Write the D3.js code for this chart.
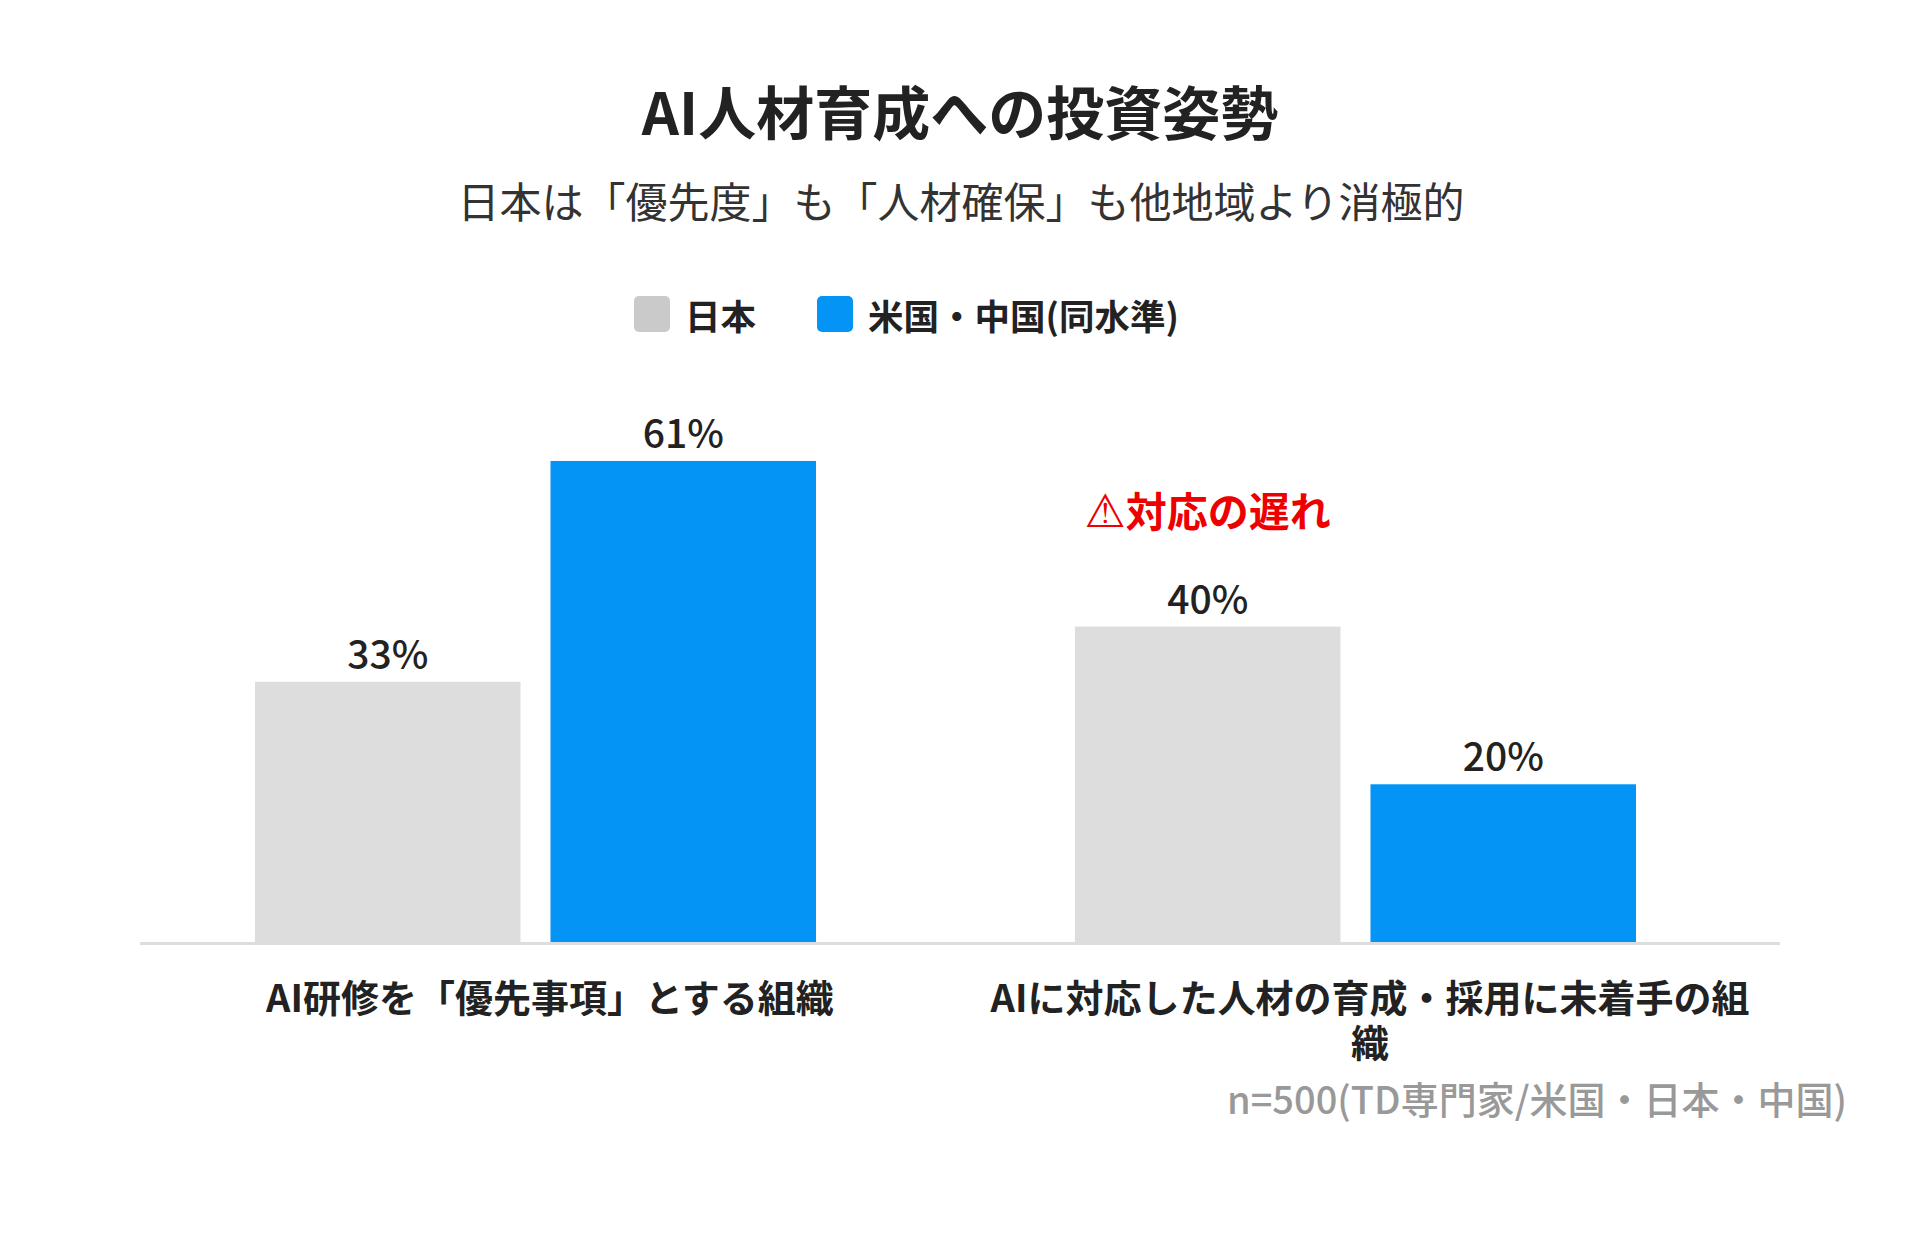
<!DOCTYPE html>
<html lang="ja">
<head>
<meta charset="utf-8">
<script src="https://cdn.jsdelivr.net/npm/d3@7/dist/d3.min.js"></script>
<style>
  html, body { margin: 0; padding: 0; background: #ffffff; }
  svg { display: block; }
  text { font-family: "Noto Sans CJK JP", "Noto Sans", sans-serif; }
</style>
</head>
<body>
<svg id="chart" width="1920" height="1236"></svg>
<script>
// ---- data ----
const categories = ["AI研修を「優先事項」とする組織", "AIに対応した人材の育成・採用に未着手の組織"];
const seriesNames = ["日本", "米国・中国(同水準)"];
const japanValues = [33, 40];
const usChinaValues = [61, 20];
const seriesColors = ["#dddddd", "#0494f5"];
const legendColors = ["#cacaca", "#0494f5"];
const titleText = "AI人材育成への投資姿勢";
const subtitleText = "日本は「優先度」も「人材確保」も他地域より消極的";
const annotationIcon = "⚠";
const annotationText = "対応の遅れ";
const footnoteText = "n=500(TD専門家/米国・日本・中国)";

const seriesValues = [japanValues, usChinaValues];
const rows = categories.map((c, i) => ({
  category: c,
  values: seriesNames.map((s, j) => ({ series: s, value: seriesValues[j][i], idx: j }))
}));

const svg = d3.select("#chart");

// ---- scales ----
const x0 = d3.scaleBand().domain(categories).range([140, 1780]).padding(0);
const bw0 = x0.bandwidth();
const x1 = d3.scaleBand().domain(seriesNames)
  .range([bw0 * 0.1402, bw0 * 0.8244]).paddingInner(0.1015).paddingOuter(0);
const y = d3.scaleLinear().domain([0, 70]).range([942, 390]);

// ---- title ----
svg.append("text").attr("x", 960).attr("y", 135).attr("text-anchor", "middle")
  .attr("font-size", 58).attr("font-weight", 700).attr("fill", "#222")
  .text(titleText);
svg.append("text").attr("x", 961).attr("y", 218).attr("text-anchor", "middle")
  .attr("font-size", 42).attr("font-weight", 400).attr("fill", "#333")
  .text(subtitleText);

// ---- legend ----
const legend = svg.append("g");
let lx = 634;
seriesNames.forEach((s, i) => {
  legend.append("rect").attr("x", lx).attr("y", 296).attr("width", 36).attr("height", 36)
    .attr("rx", 5).attr("fill", legendColors[i]);
  const t = legend.append("text").attr("x", lx + 51).attr("y", 330)
    .attr("font-size", 35.5).attr("font-weight", 700).attr("fill", "#222").text(s);
  lx += 51 + t.node().getComputedTextLength() + 61;
});

// ---- bars ----
const groups = svg.append("g").selectAll("g").data(rows).join("g")
  .attr("transform", d => `translate(${x0(d.category)},0)`);

groups.selectAll("rect").data(d => d.values).join("rect")
  .attr("x", d => x1(d.series))
  .attr("width", x1.bandwidth())
  .attr("y", d => y(d.value))
  .attr("height", d => y(0) - y(d.value))
  .attr("fill", d => seriesColors[d.idx]);

groups.selectAll("text.val").data(d => d.values).join("text")
  .attr("class", "val")
  .attr("x", d => x1(d.series) + x1.bandwidth() / 2)
  .attr("y", d => y(d.value) - 13)
  .attr("text-anchor", "middle")
  .attr("font-family", "Inter, Lato, sans-serif")
  .attr("font-size", 39).attr("font-weight", 500).attr("fill", "#222")
  .text(d => d.value + "%");

// ---- baseline axis ----
svg.append("line").attr("x1", x0.range()[0]).attr("x2", x0.range()[1])
  .attr("y1", y(0) + 1.5).attr("y2", y(0) + 1.5)
  .attr("stroke", "#dddddd").attr("stroke-width", 3);

// ---- category labels with wrapping (one text element per line) ----
const maxLabelWidth = 770;
const labelSize = 38;
categories.forEach(c => {
  const cx = x0(c) + bw0 / 2;
  const probe = svg.append("text").attr("font-size", labelSize).attr("font-weight", 700)
    .attr("visibility", "hidden");
  const lines = [];
  let line = "";
  Array.from(c).forEach(ch => {
    probe.text(line + ch);
    if (probe.node().getComputedTextLength() > maxLabelWidth && line.length > 0) {
      lines.push(line);
      line = ch;
    } else {
      line += ch;
    }
  });
  lines.push(line);
  probe.remove();
  lines.forEach((ln, k) => {
    svg.append("text").attr("x", cx).attr("y", 1012 + k * 45).attr("text-anchor", "middle")
      .attr("font-size", labelSize).attr("font-weight", 700).attr("fill", "#222")
      .text(ln);
  });
});

// ---- annotation ----
const annCat = categories[1];
const annX = x0(annCat) + x1(seriesNames[0]) + x1.bandwidth() / 2;
const ann = svg.append("text").attr("x", annX).attr("y", y(japanValues[1]) - 100)
  .attr("text-anchor", "middle").attr("font-size", 41).attr("font-weight", 700)
  .attr("fill", "#ee0000");
ann.append("tspan").attr("font-family", "DejaVu Sans").attr("font-weight", 400)
  .attr("font-size", 46).text(annotationIcon);
ann.append("tspan").text(annotationText);

// ---- footnote ----
svg.append("text").attr("x", 1847).attr("y", 1114).attr("text-anchor", "end")
  .attr("font-size", 38).attr("font-weight", 500).attr("fill", "#999999")
  .text(footnoteText);
</script>
</body>
</html>
